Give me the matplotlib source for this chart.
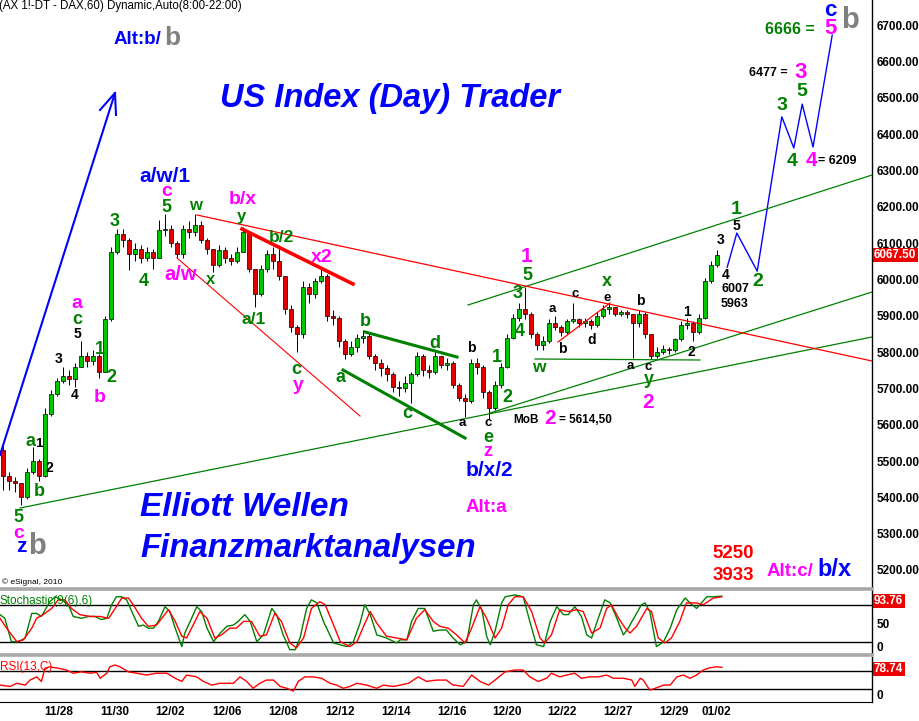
import matplotlib
matplotlib.use("Agg")
import matplotlib.pyplot as plt
from matplotlib.lines import Line2D
from matplotlib.transforms import Affine2D

plt.rcParams["font.family"] = ["Liberation Sans", "DejaVu Sans"]

W, H = 919, 721

# ---- price data (DAX future, one candle per ~2 hours) ----
first_open = 5530
closes = [5460, 5445, 5440, 5400, 5470, 5500, 5460, 5630, 5685, 5720,
          5735, 5725, 5760, 5790, 5775, 5790, 5745, 5890, 6075, 6125,
          6110, 6070, 6085, 6060, 6075, 6060, 6135, 6140, 6100, 6070,
          6140, 6130, 6150, 6110, 6085, 6040, 6080, 6060, 6050, 6075,
          6130, 6030, 5960, 6030, 6070, 6050, 6010, 5920, 5870, 5850,
          5980, 5960, 5995, 6010, 5900, 5895, 5830, 5795, 5815, 5840,
          5845, 5790, 5770, 5755, 5740, 5705, 5700, 5715, 5740, 5790,
          5750, 5745, 5790, 5765, 5770, 5710, 5675, 5665, 5770, 5760,
          5690, 5645, 5710, 5760, 5840, 5895, 5920, 5905, 5850, 5820,
          5830, 5880, 5870, 5855, 5885, 5890, 5880, 5885, 5875, 5900,
          5920, 5925, 5905, 5910, 5905, 5880, 5905, 5850, 5790, 5800,
          5810, 5805, 5835, 5875, 5880, 5855, 5895, 5995, 6040, 6067.5]
highs = [5545, 5470, 5455, 5440, 5480, 5540, 5505, 5645, 5695, 5730,
         5760, 5750, 5770, 5830, 5800, 5805, 5795, 5900, 6090, 6140,
         6140, 6115, 6100, 6095, 6090, 6085, 6165, 6180, 6150, 6105,
         6150, 6160, 6180, 6160, 6115, 6085, 6095, 6090, 6070, 6090,
         6145, 6130, 6030, 6040, 6080, 6090, 6095, 6010, 5930, 5875,
         5995, 5990, 6005, 6030, 6015, 5915, 5900, 5835, 5830, 5850,
         5860, 5850, 5795, 5780, 5765, 5745, 5720, 5735, 5745, 5800,
         5795, 5765, 5800, 5790, 5785, 5775, 5715, 5685, 5780, 5785,
         5765, 5695, 5720, 5770, 5850, 5905, 5935, 5980, 5910, 5855,
         5845, 5890, 5900, 5875, 5890, 5935, 5895, 5895, 5890, 5910,
         5930, 5935, 5925, 5915, 5915, 5905, 5915, 5910, 5850, 5815,
         5820, 5815, 5840, 5885, 5895, 5885, 5905, 6005, 6050, 6080]
lows = [5420, 5420, 5415, 5380, 5395, 5465, 5445, 5455, 5625, 5680,
        5715, 5710, 5705, 5760, 5760, 5765, 5730, 5745, 5885, 6070,
        6090, 6025, 6050, 6045, 6050, 6030, 6060, 6120, 6090, 6060,
        6060, 6115, 6120, 6100, 6070, 6020, 6035, 6045, 6040, 6045,
        6075, 6020, 5925, 5955, 6020, 6030, 6000, 5905, 5855, 5800,
        5840, 5935, 5950, 5990, 5885, 5875, 5815, 5780, 5790, 5800,
        5825, 5780, 5750, 5735, 5720, 5690, 5680, 5690, 5660, 5735,
        5735, 5730, 5740, 5755, 5750, 5700, 5665, 5620, 5660, 5740,
        5675, 5615, 5640, 5700, 5755, 5835, 5885, 5890, 5840, 5805,
        5805, 5825, 5860, 5845, 5850, 5880, 5870, 5870, 5865, 5870,
        5895, 5905, 5900, 5900, 5895, 5785, 5870, 5840, 5780, 5785,
        5795, 5795, 5800, 5830, 5865, 5830, 5850, 5890, 5990, 6035]

date_labels = ["11/28", "11/30", "12/02", "12/06", "12/08", "12/12", "12/14",
               "12/16", "12/20", "12/22", "12/27", "12/29", "01/02"]
date_pos = [9.2, 18.7, 27.8, 37.3, 46.7, 56.2, 65.5, 74.8, 84.0, 93.2, 102.5, 111.8, 118.8]

price_ticks = [5200, 5300, 5400, 5500, 5600, 5700, 5800, 5900, 6000,
               6100, 6200, 6300, 6400, 6500, 6600, 6700]
last_price = 6067.50

# Elliott wave forecast path
proj_x = [120.7, 122.3, 125.7, 129.8, 131.8, 133.2, 135.0, 138.2]
proj_price = [6034, 6128, 6023, 6448, 6362, 6483, 6365, 6673]

# Stochastic(9(6),6): %K (green) and %D (red)
stoch_k_x = [-0.5, 0.3, 1.4, 2.6, 3.7, 4.8, 5.6, 6.4, 7.8, 8.7, 9.8, 10.9, 11.7, 13.1,
             14.2, 15.3, 16.4, 17.3, 18.1, 18.9, 19.8, 20.6, 21.7, 22.6, 23.4, 24.2,
             25.1, 25.9, 27.0, 27.8, 28.7, 29.8, 30.3, 31.2, 32.3, 33.1, 34.0, 35.1,
             36.2, 37.3, 38.4, 39.2, 40.3, 41.2, 42.3, 43.4, 44.8, 45.6, 46.7, 47.8,
             48.7, 49.5, 50.6, 51.4, 52.3, 53.4, 55.1, 57.3, 58.4, 59.5, 60.3, 61.2,
             62.3, 63.9, 65.6, 66.2, 67.3, 68.1, 69.2, 70.3, 71.7, 72.8, 73.9, 75.0,
             76.2, 77.3, 78.4, 78.9, 79.8, 80.6, 81.2, 82.0, 83.1, 83.7, 85.3, 86.7,
             87.8, 88.9, 90.1, 91.2, 92.3, 93.4, 94.2, 95.3, 96.4, 97.3, 98.1, 99.2,
             100.3, 101.2, 102.3, 103.4, 104.2, 105.3, 106.4, 107.0, 107.8, 108.9,
             110.1, 111.2, 112.3, 113.7, 114.5, 115.6, 117.3, 118.4, 119.8]
stoch_k = [64, 58, 20, 20, 26, 66, 66, 61, 85, 93, 88, 80, 61, 58,
           61, 61, 56, 58, 80, 93, 93, 88, 64, 45, 47, 42,
           42, 53, 77, 69, 42, 12, 34, 53, 77, 69, 42, 20,
           34, 45, 47, 53, 64, 53, 20, 31, 74, 64, 31, 7,
           7, 26, 74, 88, 83, 53, 18, 12, 20, 50, 80, 64,
           31, 26, 18, 23, 23, 53, 74, 74, 37, 39, 39, 26,
           15, 20, 80, 88, 72, 29, 15, 37, 83, 93, 96, 93,
           53, 15, 12, 53, 77, 64, 64, 77, 61, 31, 26, 58,
           88, 83, 58, 31, 42, 61, 80, 83, 69, 12,
           20, 42, 72, 91, 83, 74, 93, 93, 94]
stoch_d_x = [-0.5, 0.6, 2.3, 3.4, 4.8, 5.6, 6.7, 8.1, 9.2, 10.3, 11.4, 12.8, 14.5,
             16.2, 17.6, 18.7, 19.8, 20.9, 21.7, 23.1, 24.2, 25.6, 26.7, 27.6, 28.7,
             29.8, 30.6, 32.0, 32.8, 34.0, 35.3, 36.4, 37.8, 38.9, 40.1, 41.4, 42.8,
             43.9, 45.3, 46.4, 47.8, 48.9, 50.1, 51.4, 52.8, 53.7, 55.1, 56.2, 57.8,
             59.0, 60.1, 61.2, 62.3, 63.9, 65.6, 67.3, 68.9, 70.3, 71.7, 72.8, 74.2,
             75.6, 77.0, 78.1, 79.5, 80.6, 82.0, 83.1, 84.2, 85.3, 86.7, 88.1, 89.5,
             90.3, 91.4, 92.8, 94.2, 95.6, 96.7, 98.1, 99.5, 100.6, 101.4, 102.6,
             103.7, 104.5, 105.6, 107.3, 108.1, 109.2, 110.3, 111.4, 112.8, 113.9,
             115.6, 116.7, 118.4, 119.8]
stoch_d = [58, 42, 20, 23, 42, 58, 64, 74, 88, 88, 74, 64, 61,
           61, 58, 74, 91, 91, 80, 58, 45, 47, 61, 72, 53,
           29, 26, 53, 69, 58, 26, 31, 42, 42, 53, 53, 29,
           31, 66, 53, 18, 10, 26, 74, 85, 80, 47, 20, 12,
           20, 45, 69, 50, 29, 26, 23, 58, 72, 53, 45, 42,
           31, 18, 42, 77, 58, 26, 42, 80, 93, 93, 69, 26,
           18, 31, 72, 69, 72, 69, 34, 42, 74, 80, 58,
           42, 34, 45, 74, 69, 26, 18, 26, 53, 83,
           83, 80, 91, 93]
stoch_last = 93.76

# RSI(13,C)
rsi_x = [-0.5, 1.2, 2.3, 3.7, 4.5, 5.6, 6.4, 7.0, 7.8, 9.2, 10.6, 11.7, 13.1, 14.5,
         15.6, 16.2, 17.3, 17.8, 18.7, 19.5, 20.9, 22.3, 23.9, 25.6, 27.3, 28.7,
         29.8, 30.6, 32.3, 33.4, 34.8, 36.2, 38.4, 39.5, 40.6, 41.7, 42.8, 43.9,
         45.1, 46.2, 47.3, 48.4, 49.2, 50.3, 51.7, 53.1, 54.5, 55.6, 56.7, 57.8,
         59.0, 60.6, 62.3, 63.4, 65.1, 66.2, 67.6, 69.2, 70.6, 72.3, 73.9, 75.0,
         75.3, 76.7, 78.1, 79.5, 80.9, 82.0, 83.7, 85.3, 86.7, 87.8, 89.2, 90.6,
         91.4, 92.8, 93.9, 95.3, 96.4, 97.8, 99.2, 100.6, 101.7, 103.4, 104.8,
         105.3, 106.2, 106.7, 107.8, 108.7, 110.1, 111.2, 112.3, 113.4, 114.5,
         115.6, 116.7, 117.8, 118.9, 119.8]
rsi = [39, 36, 43, 39, 50, 57, 47, 76, 79, 76, 72, 65, 68, 65,
       67, 54, 65, 79, 83, 79, 68, 65, 61, 65, 65, 54,
       47, 61, 57, 47, 39, 43, 43, 57, 47, 32, 43, 50,
       50, 36, 32, 26, 47, 57, 57, 54, 43, 39, 32, 36,
       43, 39, 32, 39, 36, 39, 43, 57, 47, 50, 50, 39,
       39, 36, 61, 47, 39, 50, 68, 72, 72, 57, 47, 54,
       65, 57, 61, 65, 54, 57, 57, 61, 54, 54, 50,
       36, 54, 50, 28, 32, 39, 39, 57, 61, 54,
       61, 72, 77, 79, 78]
rsi_last = 78.74

BLUE = "#0000ff"
MAG = "#ff00ff"
GREEN = "#008000"
GRAY = "#808080"
RED = "#ff0000"
BLACK = "#000000"

# ---- layout (pixel positions of drawn annotations) ----
TREND_LINES = [
    ([20, 872], [508, 337], GREEN, 0.9),
    ([490, 872], [413, 292], GREEN, 0.9),
    ([468, 872], [305, 175], GREEN, 0.9),
    ([535, 700], [359, 360], GREEN, 0.9),
    ([365, 457], [332, 357], GREEN, 2.2),
    ([343, 465], [370, 438], GREEN, 2.2),
    ([197, 872], [215, 361], RED, 0.9),
    ([177, 360], [258, 416], RED, 0.8),
    ([558, 610], [342, 303], RED, 0.9),
    ([242, 353], [229, 284], RED, 2.6),
]

LABELS = [
    (161, 40, "Alt:b/", BLUE, 13.5, "right"),
    (164, 38, "b", GRAY, 19, "left"),
    (165, 176, "a/w/1", BLUE, 15, "center"),
    (167, 192, "c", MAG, 14, "center"),
    (166, 207, "5", GREEN, 13, "center"),
    (115, 222, "3", GREEN, 13, "center"),
    (195, 206, "w", GREEN, 12, "center"),
    (243, 200, "b/x", MAG, 14, "center"),
    (241, 216, "y", GREEN, 12, "center"),
    (281, 237, "b/2", GREEN, 12.5, "center"),
    (322, 257, "x2", MAG, 14, "center"),
    (181, 274, "a/w", MAG, 14.5, "center"),
    (211, 280, "x", GREEN, 12, "center"),
    (144, 282, "4", GREEN, 13, "center"),
    (254, 320, "a/1", GREEN, 12.5, "center"),
    (296, 369, "c", GREEN, 13, "center"),
    (298, 385, "y", MAG, 14, "center"),
    (365, 322, "b", GREEN, 13, "center"),
    (340, 377, "a", GREEN, 13, "center"),
    (435, 343, "d", GREEN, 13, "center"),
    (407, 414, "c", GREEN, 13, "center"),
    (462, 423, "a", BLACK, 9.5, "center"),
    (471, 348, "b", BLACK, 10, "center"),
    (488, 423, "c", BLACK, 9.5, "center"),
    (488, 437, "e", GREEN, 13, "center"),
    (488, 452, "z", MAG, 13, "center"),
    (489, 471, "b/x/2", BLUE, 15, "center"),
    (486, 508, "Alt:a", MAG, 13.5, "center"),
    (497, 357, "1", GREEN, 13, "center"),
    (507, 397, "2", GREEN, 13, "center"),
    (520, 332, "4", GREEN, 13, "center"),
    (518, 294, "3", GREEN, 13, "center"),
    (527, 276, "5", GREEN, 13, "center"),
    (526, 257, "1", MAG, 15, "center"),
    (539, 368, "w", GREEN, 12.5, "center"),
    (552, 309, "a", BLACK, 9.5, "center"),
    (562, 349, "b", BLACK, 10, "center"),
    (575, 294, "c", BLACK, 9.5, "center"),
    (592, 340, "d", BLACK, 10, "center"),
    (607, 282, "x", GREEN, 13, "center"),
    (607, 298, "e", BLACK, 9.5, "center"),
    (640, 301, "b", BLACK, 10, "center"),
    (630, 366, "a", BLACK, 9.5, "center"),
    (648, 367, "c", BLACK, 9.5, "center"),
    (649, 380, "y", GREEN, 13, "center"),
    (648, 402, "2", MAG, 15, "center"),
    (539, 420, "MoB", BLACK, 8.5, "right"),
    (550, 419, "2", MAG, 15, "center"),
    (559, 420, "= 5614,50", BLACK, 8.5, "left"),
    (687, 312, "1", BLACK, 10, "center"),
    (691, 352, "2", BLACK, 10, "center"),
    (721, 240, "3", BLACK, 10, "center"),
    (726, 275, "4", BLACK, 10, "center"),
    (736, 226, "5", BLACK, 10, "center"),
    (735, 289, "6007", BLACK, 9, "center"),
    (735, 304, "5963", BLACK, 9, "center"),
    (736, 210, "1", GREEN, 14, "center"),
    (758, 282, "2", GREEN, 14, "center"),
    (782, 105, "3", GREEN, 14, "center"),
    (802, 92, "5", GREEN, 14, "center"),
    (792, 162, "4", GREEN, 14, "center"),
    (811, 161, "4", MAG, 15, "center"),
    (818, 161, "= 6209", BLACK, 9, "left"),
    (788, 73, "6477 =", BLACK, 9, "right"),
    (801, 73, "3", MAG, 16, "center"),
    (815, 29, "6666 =", GREEN, 11.5, "right"),
    (831, 28, "5", MAG, 16, "center"),
    (830, 10, "c", BLUE, 16, "center"),
    (850, 20, "b", GRAY, 21, "center"),
    (18, 518, "5", GREEN, 13, "center"),
    (19, 533, "c", MAG, 14, "center"),
    (21, 547, "z", BLUE, 15, "center"),
    (37, 546, "b", GRAY, 21, "center"),
    (30, 441, "a", GREEN, 13, "center"),
    (39, 444, "1", BLACK, 9.5, "center"),
    (49, 468, "2", BLACK, 10, "center"),
    (39, 492, "b", GREEN, 13, "center"),
    (59, 359, "3", BLACK, 10, "center"),
    (75, 395, "4", BLACK, 10, "center"),
    (77, 334, "5", BLACK, 10, "center"),
    (77, 319, "c", GREEN, 13, "center"),
    (77, 304, "a", MAG, 14, "center"),
    (100, 350, "1", GREEN, 13, "center"),
    (111, 377, "2", GREEN, 13, "center"),
    (100, 398, "b", MAG, 14, "center"),
    (733, 553, "5250", RED, 13.5, "center"),
    (733, 575, "3933", RED, 13.5, "center"),
    (813, 571, "Alt:c/", MAG, 13.5, "right"),
    (835, 570, "b/x", BLUE, 17, "center"),
]


def pixel_transform(fig):
    # figure pixels, origin top-left
    return Affine2D().scale(1 / W, -1 / H).translate(0, 1) + fig.transFigure


def ax_box(top, bottom, right=872):
    return [0, 1 - bottom / H, right / W, (bottom - top) / H]


def style_panel(ax, xlim):
    ax.set_xlim(*xlim)
    for side in ("top", "left", "bottom"):
        ax.spines[side].set_visible(False)
    ax.spines["right"].set_linewidth(1.0)
    ax.yaxis.tick_right()
    ax.tick_params(axis="y", length=0, pad=3, labelsize=8.5)
    ax.set_xticks([])
    ax.patch.set_alpha(0)


def red_box(fig, pix, y, text):
    fig.text(874, y, text, transform=pix, color="white", fontsize=8.5, fontweight="bold",
             ha="left", va="center",
             bbox={"boxstyle": "square,pad=0.12", "fc": "#ee0000", "ec": "none"})


def main():
    fig = plt.figure(figsize=(W / 100, H / 100), dpi=100)
    pix = pixel_transform(fig)
    xlim = (-0.5, 144.83)

    # ---------- price panel ----------
    ax = fig.add_axes(ax_box(0, 588))
    style_panel(ax, xlim)
    ax.set_ylim(5150.4, 6769.8)

    opens = [first_open] + closes[:-1]
    idx = list(range(len(closes)))
    ax.vlines(idx, lows, highs, color="black", lw=0.7, zorder=2)
    bottoms = [min(o, c) for o, c in zip(opens, closes)]
    heights = [max(abs(c - o), 2) for o, c in zip(opens, closes)]
    colors = ["#00c800" if c >= o else "#e00000" for o, c in zip(opens, closes)]
    ax.bar(idx, heights, bottom=bottoms, width=0.6, color=colors,
           edgecolor="black", linewidth=0.5, zorder=3)

    ax.plot(proj_x, proj_price, color=BLUE, lw=1.0, zorder=4)

    for xs, ys, col, lw in TREND_LINES:
        ax.plot(xs, ys, color=col, lw=lw, transform=pix, zorder=4)

    # big arrow on the left
    ax.plot([0, 115], [455, 93], color=BLUE, lw=1.5, transform=pix, zorder=4)
    ax.plot([100, 115, 116], [110, 93, 115], color=BLUE, lw=1.5, transform=pix, zorder=4)

    ax.set_yticks(price_ticks)
    ax.set_yticklabels([f"{v:.2f}" for v in price_ticks], fontweight="bold")
    red_box(fig, pix, 255, f"{last_price:.2f}")

    # ---------- stochastic panel ----------
    ax2 = fig.add_axes(ax_box(590, 654))
    style_panel(ax2, xlim)
    ax2.set_ylim(0, 104)
    ax2.axhline(80, color="black", lw=1.0)
    ax2.axhline(20, color="black", lw=1.0)
    ax2.plot(stoch_k_x, stoch_k, color="#008000", lw=1.0)
    ax2.plot(stoch_d_x, stoch_d, color="#ff0000", lw=1.0)
    ax2.set_yticks([50, 12])
    ax2.set_yticklabels(["50", "0"], fontweight="bold")
    red_box(fig, pix, 601, f"{stoch_last:.2f}")
    fig.text(0, 601, "Stochastic(9(6),6)", transform=pix, color="#008000",
             fontsize=8.5, ha="left", va="center")

    # ---------- RSI panel ----------
    ax3 = fig.add_axes(ax_box(657, 702))
    style_panel(ax3, xlim)
    ax3.spines["bottom"].set_visible(True)
    ax3.set_ylim(2, 100.5)
    ax3.axhline(70, color="black", lw=1.0)
    ax3.axhline(30, color="black", lw=1.0)
    ax3.plot(rsi_x, rsi, color="#ff0000", lw=1.0)
    ax3.set_yticks([19.5])
    ax3.set_yticklabels(["0"], fontweight="bold")
    red_box(fig, pix, 669, f"{rsi_last:.2f}")
    fig.text(0, 667, "RSI(13,C)", transform=pix, color="#ff0000",
             fontsize=8.5, ha="left", va="center")
    ax3.set_xticks(date_pos)
    ax3.set_xticklabels(date_labels, fontweight="bold")
    ax3.tick_params(axis="x", length=0, pad=3, labelsize=8.5)

    # panel separators
    for y in (589, 655):
        fig.add_artist(Line2D([0, 872], [y, y], transform=pix, color="#a8a8a8", lw=2.6))

    # ---------- text ----------
    fig.text(-1, 6, "(AX 1!-DT - DAX,60) Dynamic,Auto(8:00-22:00)", transform=pix,
             fontsize=8.3, ha="left", va="center")
    fig.text(2, 582, "\u00a9 eSignal, 2010", transform=pix, fontsize=6, ha="left", va="center")
    fig.text(390, 99, "US Index (Day) Trader", transform=pix, color=BLUE, fontsize=23.5,
             fontweight="bold", fontstyle="italic", ha="center", va="center")
    fig.text(140, 507, "Elliott Wellen", transform=pix, color=BLUE, fontsize=24,
             fontweight="bold", fontstyle="italic", ha="left", va="center")
    fig.text(140, 548, "Finanzmarktanalysen", transform=pix, color=BLUE, fontsize=23.8,
             fontweight="bold", fontstyle="italic", ha="left", va="center")

    for x, y, s, col, size, ha in LABELS:
        fig.text(x, y, s, transform=pix, color=col, fontsize=size,
                 fontweight="bold", ha=ha, va="center")

    fig.savefig("out.png", dpi=100, facecolor="white")
    plt.close(fig)


if __name__ == "__main__":
    main()
